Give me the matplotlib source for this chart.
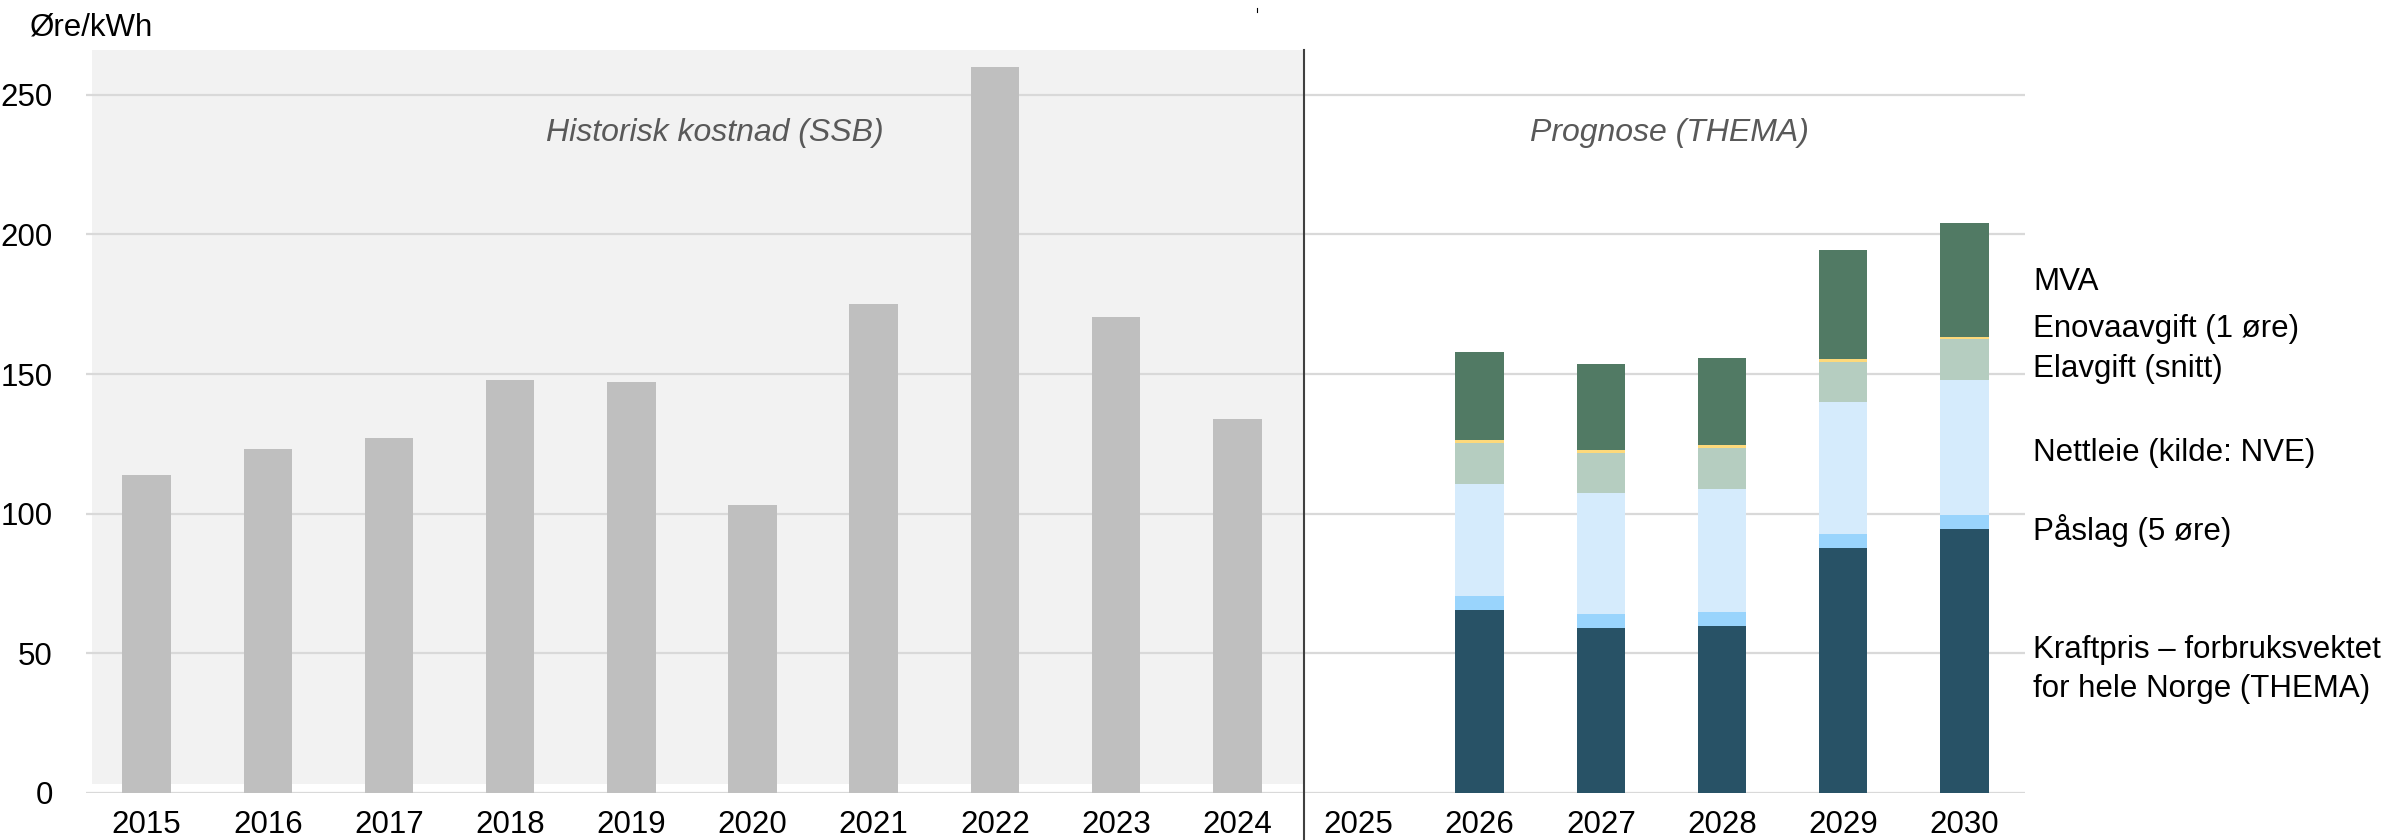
import numpy as np
import matplotlib
matplotlib.use('Agg')
import matplotlib.pyplot as plt
from matplotlib.lines import Line2D

plt.rcParams['font.family'] = ['Liberation Sans', 'DejaVu Sans']

# Data (øre/kWh)
years = [str(y) for y in range(2015, 2031)]
hist_years = ['2015', '2016', '2017', '2018', '2019', '2020', '2021', '2022', '2023', '2024']
hist_cost = [114, 123, 127, 148, 147, 103, 175, 260, 170.5, 134]

prog_years = ['2026', '2027', '2028', '2029', '2030']
kraftpris = [65.6, 59.0, 59.8, 87.6, 94.5]
paaslag = [5, 5, 5, 5, 5]
nettleie = [40.0, 43.3, 44.2, 47.3, 48.3]
elavgift = [14.7, 14.6, 14.6, 14.5, 14.6]
enova = [1, 1, 1, 1, 1]
mva = [31.5, 30.7, 31.2, 38.9, 40.8]

series = [kraftpris, paaslag, nettleie, elavgift, enova, mva]
colors = ['#285266', '#99d4fc', '#d5ebfc', '#b5cdc0', '#fdd97b', '#517a64']
labels = ['Kraftpris – forbruksvektet\nfor hele Norge (THEMA)', 'Påslag (5 øre)',
          'Nettleie (kilde: NVE)', 'Elavgift (snitt)', 'Enovaavgift (1 øre)', 'MVA']
label_y = [44.2, 93.9, 121.7, 151.8, 166, 182.9]

FS = 22.5

fig = plt.figure(figsize=(23.94, 8.4), dpi=100)
ax = fig.add_axes([86 / 2394, 47 / 840, (2025 - 86) / 2394, (793 - 50) / 840])

pos = {y: i for i, y in enumerate(years)}
hx = [pos[y] for y in hist_years]
px = np.array([pos[y] for y in prog_years])
divider = 9.55

# shaded history background
ax.axvspan(-0.45, divider, ymin=3.2 / 266, ymax=1, color='#f2f2f2', lw=0, zorder=0)

ax.set_xlim(-0.5, 15.5)
ax.set_ylim(0, 266)
ax.set_yticks([0, 50, 100, 150, 200, 250])
ax.yaxis.grid(True, color='#d9d9d9', lw=1.6, zorder=1)
ax.set_axisbelow(True)

ax.bar(hx, hist_cost, width=0.4, color='#bfbfbf', zorder=2)

bottom = np.zeros(len(prog_years))
for vals, c in zip(series, colors):
    ax.bar(px, vals, width=0.4, bottom=bottom, color=c, zorder=2)
    bottom += np.array(vals)

for lab, yv in zip(labels, label_y):
    ax.text(15.57, yv, lab, fontsize=FS, va='center', ha='left', clip_on=False,
            linespacing=1.4)

ax.text(4.69, 236.4, 'Historisk kostnad (SSB)', fontsize=23, style='italic',
        color='#595959', ha='center', va='center')
ax.text(12.57, 236.4, 'Prognose (THEMA)', fontsize=23, style='italic',
        color='#595959', ha='center', va='center')

ax.add_line(Line2D([divider, divider], [-17, 266], color='#404040', lw=1.5,
                   clip_on=False, zorder=3))

ax.set_xticks(range(len(years)))
ax.set_xticklabels(years)
ax.tick_params(axis='both', length=0, labelsize=FS)
ax.tick_params(axis='x', pad=12)
ax.tick_params(axis='y', pad=24)
for s in ax.spines.values():
    s.set_visible(False)

fig.text(30 / 2394, 1 - 35 / 840, 'Øre/kWh', fontsize=FS, va='baseline', ha='left')
fig.add_artist(Line2D([1257 / 2394, 1257 / 2394], [1 - 12 / 840, 1 - 8 / 840],
                      color='black', lw=0.8))

fig.savefig('out.png', dpi=100, facecolor='white')
